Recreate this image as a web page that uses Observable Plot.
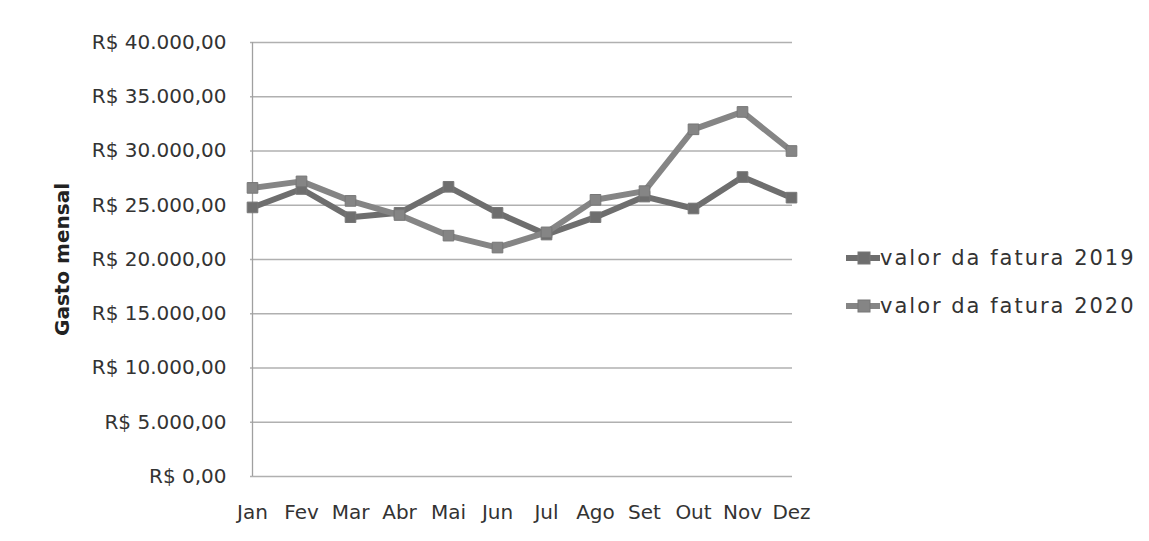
<!DOCTYPE html>
<html><head><meta charset="utf-8">
<script src="https://cdn.jsdelivr.net/npm/d3@7"></script>
<script src="https://cdn.jsdelivr.net/npm/@observablehq/plot@0.6"></script>
<style>
body{margin:0;background:#fff;font-family:"DejaVu Sans",sans-serif;}
#wrap{position:relative;width:1149px;height:541px;}
#legend{position:absolute;left:846px;top:234px;font-size:21px;letter-spacing:2px;color:#333;}
.item{display:flex;align-items:center;height:48px;}
</style></head>
<body><div id="wrap"><div id="chart"></div><div id="legend"></div></div>
<script>
const months = ["Jan","Fev","Mar","Abr","Mai","Jun","Jul","Ago","Set","Out","Nov","Dez"];
const series2019 = [24800,26500,23900,24300,26700,24300,22300,23900,25800,24700,27600,25700];
const series2020 = [26600,27200,25400,24100,22200,21100,22500,25500,26300,32000,33600,30000];
const seriesNames = ["valor da fatura 2019","valor da fatura 2020"];
const yTicks = [0,5000,10000,15000,20000,25000,30000,35000,40000];
const colors = ["#6e6e6e","#858585"];

const data = [];
months.forEach((m,i)=>{
  data.push({month:m, value:series2019[i], s:seriesNames[0]});
  data.push({month:m, value:series2020[i], s:seriesNames[1]});
});
const loc = d3.formatLocale({decimal:",",thousands:".",grouping:[3],currency:["R$ ",""]});
const fmt = loc.format("$,.2f");

const chart = Plot.plot({
  width:1149, height:541,
  marginLeft:250, marginRight:357, marginTop:42, marginBottom:65,
  style:{fontFamily:"'DejaVu Sans', sans-serif", fontSize:"20px", color:"#333", background:"transparent"},
  x:{type:"point", domain:months, padding:0.01, label:null},
  y:{domain:[0,40000], ticks:yTicks, label:null},
  color:{domain:seriesNames, range:colors},
  marks:[
    Plot.gridY(yTicks,{stroke:"#b0b0b0", strokeOpacity:1, strokeWidth:1.3}),
    Plot.ruleX([months[0]],{stroke:"#a0a0a0", strokeWidth:1.3}),
    Plot.axisY({ticks:yTicks, tickFormat:fmt, tickSize:0, tickPadding:24, fontSize:20, letterSpacing:1.2}),
    Plot.axisX({tickSize:0, tickPadding:28, fontSize:20, letterSpacing:1}),
    Plot.line(data,{x:"month", y:"value", z:"s", stroke:"s", strokeWidth:6, strokeLinejoin:"round"}),
    Plot.dot(data,{x:"month", y:"value", fill:"s", symbol:"square", r:6, stroke:"#777", strokeWidth:1}),
    Plot.text(["Gasto mensal"],{frameAnchor:"left", textAnchor:"middle", rotate:-90, dx:-188, fontWeight:"bold", fontSize:20, fill:"#222"})
  ]
});
document.getElementById("chart").appendChild(chart);

const leg = document.getElementById("legend");
seriesNames.forEach((n,i)=>{
  const d = document.createElement("div"); d.className="item";
  d.innerHTML = `<svg width="34" height="14" style="margin-right:0"><line x1="0" y1="7" x2="34" y2="7" stroke="${colors[i]}" stroke-width="6"/><rect x="12" y="1" width="12" height="12" fill="${colors[i]}" stroke="#777"/></svg><span>${n}</span>`;
  leg.appendChild(d);
});
</script></body></html>
